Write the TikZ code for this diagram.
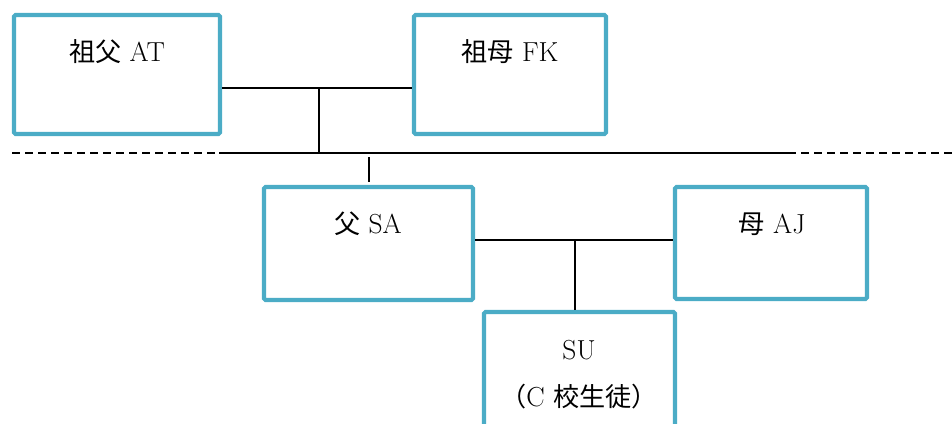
\documentclass[tikz,border=0pt]{standalone}
\usepackage{fontspec}
\newfontfamily\cjk{Noto Sans CJK JP}[Scale=0.95]
\usetikzlibrary{calc}
\definecolor{boxblue}{HTML}{4BACC6}
\tikzset{
  person/.style={draw=boxblue, line width=4.2pt, rounded corners=1.5pt, fill=white, inner sep=0pt},
  txt/.style={inner sep=0pt, font=\fontsize{27.5}{33}\selectfont},
  link/.style={line width=1.8pt, black},
  outside/.style={line width=1.8pt, black, dash pattern=on 8pt off 5pt}
}
\begin{document}
\begin{tikzpicture}[x=1pt,y=1pt]
\useasboundingbox (0,0) rectangle (952,-423);
\clip (0,0) rectangle (952,-423);
% boxes
\node[person, minimum width=206pt, minimum height=119pt] (b1) at (117,-74.5) {};
\node[person, minimum width=192pt, minimum height=119pt] (b2) at (510,-74.5) {};
\node[person, minimum width=209pt, minimum height=113pt] (b3) at (368.5,-243.5) {};
\node[person, minimum width=192pt, minimum height=112pt] (b4) at (771,-243) {};
\node[person, minimum width=191pt, minimum height=148pt] (b5) at (579.5,-386) {};
% texts
\node[txt] (t1) at (117,-52) {{\cjk 祖父} AT};
\node[txt] (t2) at (510,-52) {{\cjk 祖母} FK};
\node[txt] (t3) at (368,-224) {{\cjk 父} SA};
\node[txt] (t4) at (772,-224) {{\cjk 母} AJ};
\node[txt] (t5) at (579,-350) {SU};
\node[txt] (t6) at (579,-397) {{\cjk （}C {\cjk 校生徒）}};
% coordinates
\coordinate (m1) at (319,-88);
\coordinate (gl) at (12,-153);
\coordinate (gs) at (219,-153);
\coordinate (ge) at (788,-153);
\coordinate (gr) at (952,-153);
\coordinate (s1) at (369,-157);
\coordinate (s2) at (369,-182);
\coordinate (m2) at (575,-240);
% connectors
\draw[link] (b1.east |- m1) -- (b2.west |- m1);
\draw[link] (m1) -- (m1 |- gs);
\draw[outside] (gl) -- (gs);
\draw[link] (gs) -- (ge);
\draw[outside] (ge) -- (gr);
\draw[link] (s1) -- (s2);
\draw[link] (b3.east |- m2) -- (b4.west |- m2);
\draw[link] (m2) -- (m2 |- b5.north);
\end{tikzpicture}
\end{document}
